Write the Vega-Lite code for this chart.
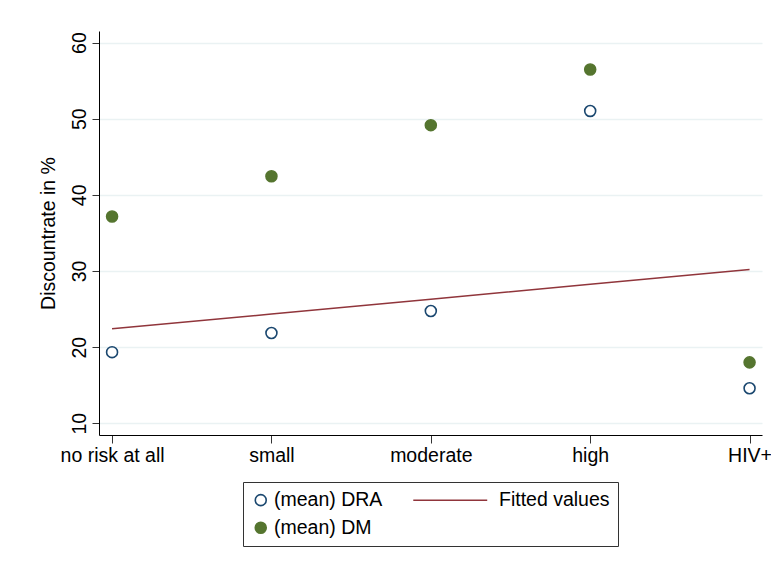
{
  "$schema": "https://vega.github.io/schema/vega-lite/v6.json",
  "autosize": "none",
  "width": 663,
  "height": 404,
  "padding": {"left": 99, "top": 31, "right": 9, "bottom": 130},
  "background": "white",
  "config": {
    "font": "Liberation Sans",
    "view": {"stroke": null},
    "axis": {
      "domainColor": "#000000",
      "domainWidth": 1,
      "tickColor": "#333333",
      "tickWidth": 1,
      "labelColor": "#000000",
      "titleColor": "#000000",
      "labelFont": "Liberation Sans",
      "titleFont": "Liberation Sans",
      "labelFontSize": 19.5,
      "titleFontSize": 19.5,
      "titleFontWeight": "normal"
    },
    "legend": {
      "title": null,
      "orient": "none",
      "legendX": 144,
      "legendY": 451,
      "direction": "vertical",
      "columns": 2,
      "columnPadding": 26,
      "rowPadding": 7,
      "padding": 8,
      "strokeColor": "#333333",
      "fillColor": "white",
      "labelFont": "Liberation Sans",
      "labelFontSize": 19.5,
      "labelColor": "#000000",
      "labelOffset": 5,
      "symbolSize": 120,
      "symbolStrokeWidth": 1.6
    }
  },
  "data": {
    "values": [
      {"risk": 1, "series": "(mean) DRA", "value": 19.34},
      {"risk": 2, "series": "(mean) DRA", "value": 21.86},
      {"risk": 3, "series": "(mean) DRA", "value": 24.75},
      {"risk": 4, "series": "(mean) DRA", "value": 51.02},
      {"risk": 5, "series": "(mean) DRA", "value": 14.6},
      {"risk": 1, "series": "(mean) DM", "value": 37.16},
      {"risk": 2, "series": "(mean) DM", "value": 42.45},
      {"risk": 3, "series": "(mean) DM", "value": 49.15},
      {"risk": 4, "series": "(mean) DM", "value": 56.46},
      {"risk": 5, "series": "(mean) DM", "value": 18.0},
      {"risk": 1, "series": "Fitted values", "value": 22.4},
      {"risk": 2, "series": "Fitted values", "value": 24.35},
      {"risk": 3, "series": "Fitted values", "value": 26.3},
      {"risk": 4, "series": "Fitted values", "value": 28.25},
      {"risk": 5, "series": "Fitted values", "value": 30.2}
    ]
  },
  "encoding": {
    "x": {
      "field": "risk",
      "type": "quantitative",
      "scale": {"domain": [0.918, 5.078], "nice": false, "zero": false},
      "axis": {
        "title": null,
        "values": [1, 2, 3, 4, 5],
        "grid": false,
        "tickSize": 8,
        "labelPadding": 3,
        "labelExpr": "['', 'no risk at all', 'small', 'moderate', 'high', 'HIV+'][datum.value]"
      }
    },
    "y": {
      "field": "value",
      "type": "quantitative",
      "scale": {"domain": [8.46, 61.52], "nice": false, "zero": false},
      "axis": {
        "title": "Discountrate in %",
        "values": [10, 20, 30, 40, 50, 60],
        "grid": true,
        "gridColor": "#eaf2f3",
        "gridWidth": 1.5,
        "tickSize": 7,
        "labelAngle": 270,
        "labelAlign": "center",
        "labelBaseline": "bottom",
        "labelPadding": 3,
        "titlePadding": 11
      }
    },
    "stroke": {
      "field": "series",
      "type": "nominal",
      "scale": {
        "domain": ["(mean) DRA", "(mean) DM", "Fitted values"],
        "range": ["#1a476f", "#55752f", "#90353b"]
      },
      "legend": {
        "encode": {
          "symbols": {
            "update": {
              "shape": {"signal": "datum.value === 'Fitted values' ? 'M-1,0H12.5' : 'circle'"},
              "strokeWidth": {"signal": "datum.value === 'Fitted values' ? 1.5 : 1.6"}
            }
          },
          "labels": {
            "update": {
              "x": {"signal": "datum.value === 'Fitted values' ? 90 : 23"}
            }
          }
        }
      }
    }
  },
  "layer": [
    {
      "transform": [{"filter": "datum.series === 'Fitted values'"}],
      "mark": {"type": "line", "strokeWidth": 1.5}
    },
    {
      "transform": [{"filter": "datum.series !== 'Fitted values'"}],
      "mark": {"type": "point", "shape": "circle", "size": 120, "strokeWidth": 1.6, "opacity": 1},
      "encoding": {
        "fill": {
          "field": "series",
          "type": "nominal",
          "scale": {
            "domain": ["(mean) DRA", "(mean) DM", "Fitted values"],
            "range": ["transparent", "#55752f", "transparent"]
          },
          "legend": {
            "encode": {
              "symbols": {
                "update": {
                  "shape": {"signal": "datum.value === 'Fitted values' ? 'M-1,0H12.5' : 'circle'"},
                  "strokeWidth": {"signal": "datum.value === 'Fitted values' ? 1.5 : 1.6"}
                }
              },
              "labels": {
                "update": {
                  "x": {"signal": "datum.value === 'Fitted values' ? 90 : 23"}
                }
              }
            }
          }
        }
      }
    }
  ]
}
